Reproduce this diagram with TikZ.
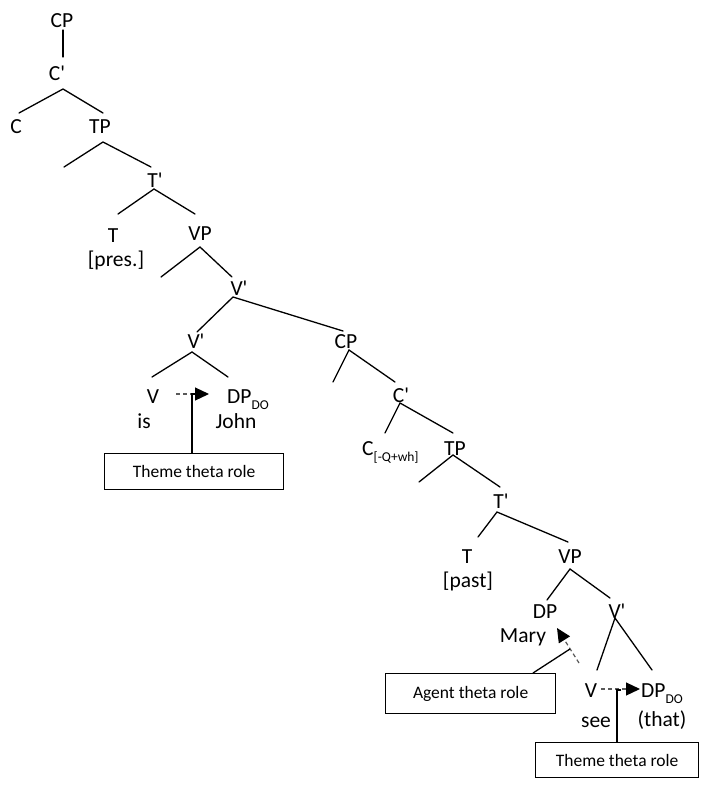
\documentclass[tikz,border=0pt]{standalone}
\usepackage{fontspec}
\setmainfont{Carlito}
\usetikzlibrary{arrows.meta}
\newcommand{\sbs}[1]{\raisebox{-0.28em}{\fontsize{13.5}{13.5}\selectfont #1}}
\newcommand{\barmark}{\textquotesingle}
\begin{document}
\begin{tikzpicture}[x=1pt,y=-1pt,
  lbl/.style={font=\fontsize{21.5}{24}\selectfont, inner sep=0pt, anchor=base},
  lblw/.style={font=\fontsize{21.5}{24}\selectfont, inner sep=0pt, anchor=base west},
  br/.style={line width=1.3pt, line cap=round},
  rolebox/.style={draw, line width=1.2pt, font=\fontsize{17.5}{20}\selectfont, inner sep=0pt, anchor=north west},
  theta/.style={line width=1.2pt, dash pattern=on 4pt off 3pt, draw=black!65,
    -{Triangle[length=14pt,width=13pt,fill=black,color=black]}},
  link/.style={line width=1.3pt}]
\useasboundingbox (0,0) rectangle (702,788);

% ---- labels of the matrix clause ----
\node[lbl] (cp1) at (62,27) {CP};
\node[lbl] (cb1) at (57,80) {C\barmark};
\node[lbl] (c1)  at (16,133) {C};
\node[lbl] (tp1) at (100,133) {TP};
\node[lbl] (tb1) at (155,187) {T\barmark};
\node[lbl] (t1)  at (113,242) {T};
\node[lbl] (pres) at (116,266) {[pres.]};
\node[lbl] (vp1) at (200,240) {VP};
\node[lbl] (vba) at (239,295) {V\barmark};
\node[lbl] (vbb) at (196,348) {V\barmark};
\node[lbl] (v1)  at (153,403) {V};
\node[lbl] (is)  at (144,428) {is};
\node[lblw] (dp1) at (227,403) {DP\sbs{DO}};
\node[lbl] (john) at (236,428) {John};

% ---- labels of the embedded clause ----
\node[lbl] (cp2) at (346,348) {CP};
\node[lbl] (cb2) at (401,402) {C\barmark};
\node[lblw] (c2) at (362,455) {C\sbs{[-Q+wh]}};
\node[lbl] (tp2) at (455,455) {TP};
\node[lbl] (tb2) at (501,508) {T\barmark};
\node[lbl] (t2)  at (467,563) {T};
\node[lbl] (past) at (468,587) {[past]};
\node[lbl] (vp2) at (570,563) {VP};
\node[lbl] (dp2) at (545,618) {DP};
\node[lbl] (mary) at (523,642) {Mary};
\node[lbl] (vbc) at (617,618) {V\barmark};
\node[lbl] (v2)  at (591,697) {V};
\node[lbl] (see) at (596,727) {see};
\node[lblw] (dp3) at (641,697) {DP\sbs{DO}};
\node[lbl] (that) at (662,726) {(that)};

% ---- branch points ----
\coordinate (cp1b) at (63,30);  \coordinate (cb1t) at (63,57);
\coordinate (cb1a) at (63,89);  \coordinate (c1t) at (19,113);  \coordinate (tp1t) at (103,113);
\coordinate (tp1a) at (103,142); \coordinate (spec1) at (64,167); \coordinate (tb1t) at (151,167);
\coordinate (tb1a) at (154,189); \coordinate (t1t) at (118,214); \coordinate (vp1t) at (195,214);
\coordinate (vp1a) at (200,247); \coordinate (spec2) at (161,277); \coordinate (vbat) at (232,277);
\coordinate (vbaa) at (233,297); \coordinate (vbbt) at (197,332); \coordinate (cp2t) at (343,331);
\coordinate (vbba) at (192,352); \coordinate (v1t) at (152,377); \coordinate (dp1t) at (228,377);
\coordinate (cp2a) at (349,350); \coordinate (spec3) at (333,382); \coordinate (cb2t) at (395,382);
\coordinate (cb2a) at (400,403); \coordinate (c2t) at (385,433); \coordinate (tp2t) at (453,433);
\coordinate (tp2a) at (453,455); \coordinate (spec4) at (419,482); \coordinate (tb2t) at (500,487);
\coordinate (tb2a) at (497,512); \coordinate (t2t) at (478,537); \coordinate (vp2t) at (568,542);
\coordinate (vp2a) at (570,569); \coordinate (dp2t) at (547,600); \coordinate (vbct) at (610,598);
\coordinate (vbca) at (615,618); \coordinate (v2t) at (597,670); \coordinate (dp3t) at (652,670);

% ---- branches ----
\draw[br] (cp1b) -- (cb1t);
\draw[br] (c1t) -- (cb1a) -- (tp1t);
\draw[br] (spec1) -- (tp1a) -- (tb1t);
\draw[br] (t1t) -- (tb1a) -- (vp1t);
\draw[br] (spec2) -- (vp1a) -- (vbat);
\draw[br] (vbbt) -- (vbaa) -- (cp2t);
\draw[br] (v1t) -- (vbba) -- (dp1t);
\draw[br] (spec3) -- (cp2a) -- (cb2t);
\draw[br] (c2t) -- (cb2a) -- (tp2t);
\draw[br] (spec4) -- (tp2a) -- (tb2t);
\draw[br] (t2t) -- (tb2a) -- (vp2t);
\draw[br] (dp2t) -- (vp2a) -- (vbct);
\draw[br] (v2t) -- (vbca) -- (dp3t);

% ---- theta role boxes ----
\node[rolebox, minimum width=179pt, minimum height=36pt] (th1) at (104,453) {Theme theta role};
\node[rolebox, minimum width=170pt, minimum height=40pt] (ag) at (385,673) {Agent theta role};
\node[rolebox, minimum width=163pt, minimum height=35pt] (th2) at (535,742) {Theme theta role};

% ---- theta assignment ----
\coordinate (a1s) at (176,394); \coordinate (a1e) at (209,394);
\coordinate (a1j) at (192,394); \coordinate (a1k) at (196,394);
\draw[theta] (a1s) -- (a1e);
\draw[link] (th1.north -| a1j) -- (a1j) -- (a1k);

\coordinate (a2s) at (579,663); \coordinate (a2e) at (557,628);
\coordinate (a2j) at (570,649);
\coordinate (agt) at (533,673);
\draw[theta] (a2s) -- (a2e);
\draw[link] (agt) -- (a2j);

\coordinate (a3s) at (601,689); \coordinate (a3e) at (640,689);
\coordinate (a3j) at (617,690); \coordinate (a3k) at (621,690);
\draw[theta] (a3s) -- (a3e);
\draw[link] (th2.north -| a3j) -- (a3j) -- (a3k);
\end{tikzpicture}
\end{document}
